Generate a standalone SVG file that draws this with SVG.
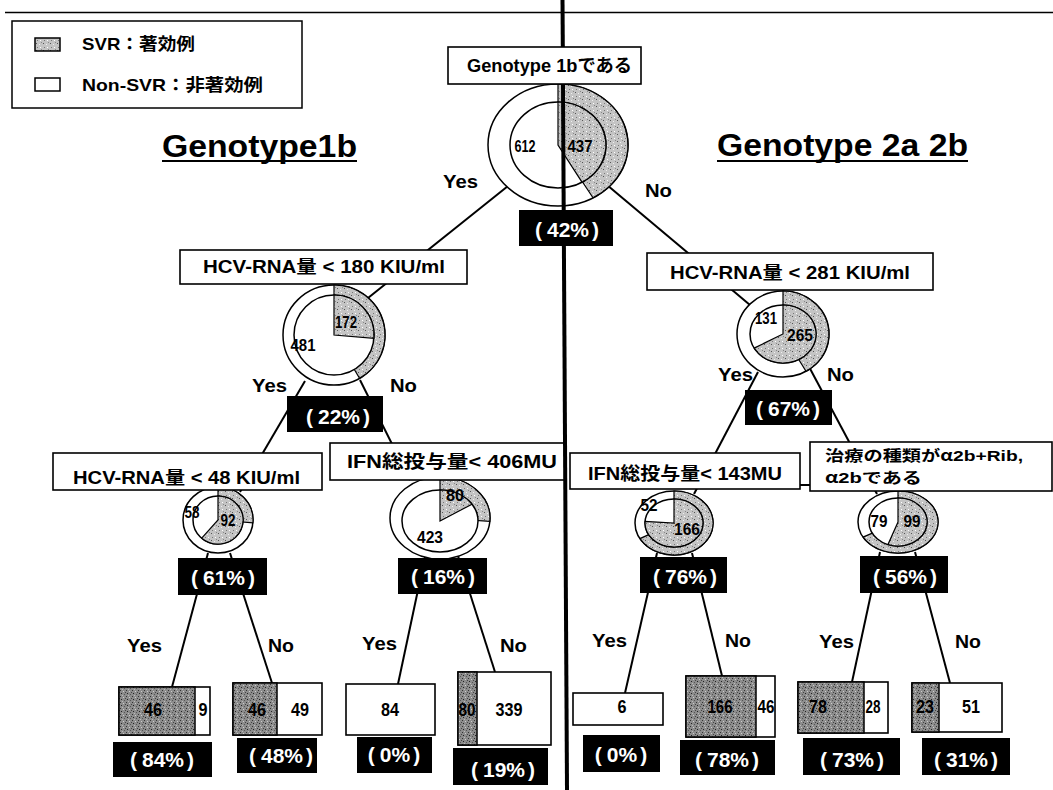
<svg xmlns="http://www.w3.org/2000/svg" width="1053" height="790" viewBox="0 0 1053 790">
<style>
.t{font-family:"Liberation Sans","Noto Sans CJK JP",sans-serif;font-weight:bold;fill:#000}
.j{font-family:"Noto Sans CJK JP",sans-serif}
.box{fill:#fff;stroke:#000;stroke-width:1.6}
.po{fill:#fff;stroke:#000;stroke-width:1.5}
.sv{fill:url(#g1);stroke:#000;stroke-width:1.2}
.sd{fill:url(#g2);stroke:#000;stroke-width:1.5}
.pct{fill:#000}
.pt{fill:#fff;font-size:21px;text-anchor:middle}
.lb{font-size:18px}
.yn{font-size:18px}
.n{font-size:17px;text-anchor:middle}
.ln{font-size:18px;text-anchor:middle}
.conn line{stroke:#000;stroke-width:2;fill:none}
.div line{stroke:#000;stroke-width:4}
</style>
<defs>
<pattern id="g1" width="7" height="7" patternUnits="userSpaceOnUse">
<rect width="7" height="7" fill="#c4c4c4"/>
<rect x="1" y="1" width="1" height="1" fill="#555"/>
<rect x="4" y="2" width="1" height="1" fill="#eee"/>
<rect x="2" y="5" width="1" height="1" fill="#777"/>
<rect x="5" y="5" width="1" height="1" fill="#fff"/>
<rect x="6" y="0" width="1" height="1" fill="#888"/>
</pattern>
<pattern id="g2" width="6" height="6" patternUnits="userSpaceOnUse">
<rect width="6" height="6" fill="#8c8c8c"/>
<rect x="0" y="0" width="1" height="1" fill="#333"/>
<rect x="3" y="1" width="1" height="1" fill="#ccc"/>
<rect x="1" y="3" width="1" height="1" fill="#222"/>
<rect x="4" y="4" width="1" height="1" fill="#555"/>
<rect x="2" y="5" width="1" height="1" fill="#bbb"/>
<rect x="5" y="2" width="1" height="1" fill="#444"/>
</pattern>
</defs>
<rect width="1053" height="790" fill="#fff"/>
<line x1="5" y1="12.5" x2="1053" y2="12.5" stroke="#000" stroke-width="1.5"/>

<g id="legend">
<rect x="12" y="21" width="290" height="87" fill="#fff" stroke="#000" stroke-width="1.5"/>
<rect x="35" y="38" width="25" height="13" fill="url(#g1)" stroke="#000" stroke-width="1.5"/>
<rect x="35" y="78" width="25" height="13" fill="#fff" stroke="#000" stroke-width="1.5"/>
<text class="t" x="82" y="50" font-size="17" textLength="113" lengthAdjust="spacingAndGlyphs">SVR：著効例</text>
<text class="t" x="82" y="91" font-size="17" textLength="181" lengthAdjust="spacingAndGlyphs">Non-SVR：非著効例</text>
</g>

<g id="headings">
<text class="t" x="162" y="157" font-size="31" textLength="195" lengthAdjust="spacingAndGlyphs">Genotype1b</text>
<line x1="162" y1="161" x2="357" y2="161" stroke="#000" stroke-width="2"/>
<text class="t" x="717" y="156" font-size="31" textLength="251" lengthAdjust="spacingAndGlyphs">Genotype 2a 2b</text>
<line x1="717" y1="161" x2="968" y2="161" stroke="#000" stroke-width="2"/>
</g>

<g id="connectors" class="conn">
<line x1="508" y1="186" x2="368" y2="298"/>
<line x1="607" y1="185" x2="750" y2="305"/>
<line x1="305" y1="381" x2="240" y2="492"/>
<line x1="360" y1="380" x2="410" y2="480"/>
<line x1="758" y1="372" x2="694" y2="494"/>
<line x1="807" y1="363" x2="877" y2="494"/>
<line x1="208" y1="553" x2="172" y2="687"/>
<line x1="230" y1="553" x2="272" y2="683"/>
<line x1="425" y1="557" x2="398" y2="684"/>
<line x1="458" y1="556" x2="495" y2="672"/>
<line x1="657" y1="553" x2="625" y2="693"/>
<line x1="692" y1="553" x2="722" y2="676"/>
<line x1="880" y1="552" x2="852" y2="682"/>
<line x1="915" y1="552" x2="950" y2="683"/>
<line x1="800" y1="485" x2="810" y2="485"/>
</g>

<g id="branch-labels">
<text class="t yn" x="443" y="188" textLength="35" lengthAdjust="spacingAndGlyphs">Yes</text>
<text class="t yn" x="645" y="197" textLength="27" lengthAdjust="spacingAndGlyphs">No</text>
<text class="t yn" x="252" y="392" textLength="35" lengthAdjust="spacingAndGlyphs">Yes</text>
<text class="t yn" x="390" y="392" textLength="27" lengthAdjust="spacingAndGlyphs">No</text>
<text class="t yn" x="718" y="381" textLength="35" lengthAdjust="spacingAndGlyphs">Yes</text>
<text class="t yn" x="827" y="381" textLength="27" lengthAdjust="spacingAndGlyphs">No</text>
<text class="t yn" x="127" y="652" textLength="35" lengthAdjust="spacingAndGlyphs">Yes</text>
<text class="t yn" x="268" y="652" textLength="26" lengthAdjust="spacingAndGlyphs">No</text>
<text class="t yn" x="362" y="650" textLength="35" lengthAdjust="spacingAndGlyphs">Yes</text>
<text class="t yn" x="500" y="652" textLength="27" lengthAdjust="spacingAndGlyphs">No</text>
<text class="t yn" x="592" y="647" textLength="35" lengthAdjust="spacingAndGlyphs">Yes</text>
<text class="t yn" x="725" y="647" textLength="26" lengthAdjust="spacingAndGlyphs">No</text>
<text class="t yn" x="819" y="648" textLength="35" lengthAdjust="spacingAndGlyphs">Yes</text>
<text class="t yn" x="955" y="648" textLength="26" lengthAdjust="spacingAndGlyphs">No</text>
</g>

<g id="node-root">
<ellipse cx="558" cy="145" rx="70" ry="61" class="po"/>
<path d="M558,145 L558,84 A70,61 0 0 1 593,197.8 Z" class="sv"/>
<ellipse cx="558" cy="145" rx="48" ry="43" class="po"/>
<path d="M558,145 L558,102 A48,43 0 0 1 582,182.2 Z" class="sv"/>
<text class="t n" x="525" y="152" textLength="21" lengthAdjust="spacingAndGlyphs">612</text>
<text class="t n" x="580" y="152" textLength="25" lengthAdjust="spacingAndGlyphs">437</text>
<rect x="448" y="47" width="193" height="37" class="box"/>
<text class="t lb" x="467" y="72" textLength="165" lengthAdjust="spacingAndGlyphs">Genotype 1bである</text>
<rect x="519" y="210" width="94" height="36" class="pct"/>
<text class="t pt" x="567" y="237">(<tspan dx="5">42%</tspan><tspan dx="3">)</tspan></text>
</g>

<g id="node-hcv180">
<ellipse cx="334" cy="335" rx="51" ry="50" class="po"/>
<path d="M334,335 L334,285 A51,50 0 0 1 359.5,378.3 Z" class="sv"/>
<ellipse cx="334" cy="335" rx="40" ry="40" class="po"/>
<path d="M334,335 L334,295 A40,40 0 0 1 373.9,338.3 Z" class="sv"/>
<text class="t n" x="346" y="328" textLength="22" lengthAdjust="spacingAndGlyphs">172</text>
<text class="t n" x="303" y="351" textLength="25" lengthAdjust="spacingAndGlyphs">481</text>
<rect x="180" y="250" width="287" height="34" class="box"/>
<text class="t lb" x="203" y="273" textLength="242" lengthAdjust="spacingAndGlyphs">HCV-RNA量 &lt; 180 KIU/ml</text>
<rect x="287" y="396" width="96" height="36" class="pct"/>
<text class="t pt" x="338" y="424">(<tspan dx="5">22%</tspan><tspan dx="3">)</tspan></text>
</g>

<g id="node-hcv281">
<ellipse cx="783" cy="334" rx="46" ry="43" class="po"/>
<path d="M783,334 L783,291 A46,43 0 0 1 806,371.2 Z" class="sv"/>
<ellipse cx="783" cy="334" rx="33" ry="29" class="po"/>
<path d="M783,334 L783,305 A33,29 0 1 1 754.2,348.1 Z" class="sv"/>
<text class="t n" x="766" y="324" textLength="22" lengthAdjust="spacingAndGlyphs">131</text>
<text class="t n" x="800" y="341" textLength="26" lengthAdjust="spacingAndGlyphs">265</text>
<rect x="647" y="253" width="286" height="37" class="box"/>
<text class="t lb" x="670" y="279" textLength="240" lengthAdjust="spacingAndGlyphs">HCV-RNA量 &lt; 281 KIU/ml</text>
<rect x="745" y="390" width="87" height="35" class="pct"/>
<text class="t pt" x="788" y="416">(<tspan dx="5">67%</tspan><tspan dx="3">)</tspan></text>
</g>

<g id="node-hcv48">
<ellipse cx="218" cy="520" rx="35" ry="33" class="po"/>
<path d="M218,520 L218,487 A35,33 0 0 1 252.9,522.8 Z" class="sv"/>
<ellipse cx="218" cy="520" rx="25" ry="24" class="po"/>
<path d="M218,520 L218,496 A25,24 0 1 1 201.7,538.2 Z" class="sv"/>
<text class="t n" x="192" y="518" textLength="15" lengthAdjust="spacingAndGlyphs">58</text>
<text class="t n" x="228" y="526" textLength="15" lengthAdjust="spacingAndGlyphs">92</text>
<rect x="53" y="453" width="269" height="37" class="box"/>
<text class="t lb" x="73" y="484" textLength="227" lengthAdjust="spacingAndGlyphs">HCV-RNA量 &lt; 48 KIU/ml</text>
<rect x="178" y="558" width="89" height="37" class="pct"/>
<text class="t pt" x="223" y="585">(<tspan dx="5">61%</tspan><tspan dx="3">)</tspan></text>
</g>

<g id="node-ifn406">
<ellipse cx="440" cy="518" rx="50" ry="41" class="po"/>
<path d="M440,518 L440,477 A50,41 0 0 1 489.8,521.4 Z" class="sv"/>
<ellipse cx="440" cy="521" rx="38" ry="31" class="po"/>
<path d="M440,521 L440,490 A38,31 0 0 1 471.9,504.2 Z" class="sv"/>
<text class="t n" x="455" y="501" textLength="18" lengthAdjust="spacingAndGlyphs">80</text>
<text class="t n" x="430" y="543" textLength="26" lengthAdjust="spacingAndGlyphs">423</text>
<rect x="330" y="443" width="235" height="37" class="box"/>
<text class="t lb" x="347" y="468" textLength="210" lengthAdjust="spacingAndGlyphs">IFN総投与量&lt; 406MU</text>
<rect x="398" y="558" width="89" height="36" class="pct"/>
<text class="t pt" x="443" y="584">(<tspan dx="5">16%</tspan><tspan dx="3">)</tspan></text>
</g>

<g id="node-ifn143">
<ellipse cx="674" cy="523" rx="39" ry="32" class="po"/>
<path d="M674,523 L674,491 A39,32 0 1 1 640,538.6 Z" class="sv"/>
<ellipse cx="674" cy="523" rx="29" ry="24" class="po"/>
<path d="M674,523 L674,499 A29,24 0 1 1 645.1,521.3 Z" class="sv"/>
<text class="t n" x="649" y="511" textLength="17" lengthAdjust="spacingAndGlyphs">52</text>
<text class="t n" x="687" y="535" textLength="26" lengthAdjust="spacingAndGlyphs">166</text>
<rect x="570" y="453" width="230" height="36" class="box"/>
<text class="t lb" x="588" y="480" textLength="194" lengthAdjust="spacingAndGlyphs">IFN総投与量&lt; 143MU</text>
<rect x="640" y="557" width="87" height="36" class="pct"/>
<text class="t pt" x="685" y="584">(<tspan dx="5">76%</tspan><tspan dx="3">)</tspan></text>
</g>

<g id="node-alpha2b">
<ellipse cx="898" cy="522" rx="40" ry="31" class="po"/>
<path d="M898,522 L898,491 A40,31 0 1 1 863.1,537.1 Z" class="sv"/>
<ellipse cx="898" cy="522" rx="29" ry="24" class="po"/>
<path d="M898,522 L898,498 A29,24 0 1 1 888,544.5 Z" class="sv"/>
<text class="t n" x="879" y="527" textLength="17" lengthAdjust="spacingAndGlyphs">79</text>
<text class="t n" x="912" y="527" textLength="17" lengthAdjust="spacingAndGlyphs">99</text>
<rect x="810" y="442" width="242" height="49" class="box"/>
<text class="t" x="825" y="461" font-size="15" textLength="198" lengthAdjust="spacingAndGlyphs">治療の種類が<tspan class="j">α</tspan>2b+Rib,</text>
<text class="t" x="825" y="483" font-size="15" textLength="97" lengthAdjust="spacingAndGlyphs"><tspan class="j">α</tspan>2bである</text>
<rect x="860" y="556" width="88" height="37" class="pct"/>
<text class="t pt" x="905" y="584">(<tspan dx="5">56%</tspan><tspan dx="3">)</tspan></text>
</g>

<g id="leaf-1">
<rect x="119" y="687" width="91" height="48" class="box"/>
<rect x="119" y="687" width="76" height="48" class="sd"/>
<text class="t ln" x="153" y="716" textLength="18" lengthAdjust="spacingAndGlyphs">46</text>
<text class="t ln" x="203" y="716" textLength="9" lengthAdjust="spacingAndGlyphs">9</text>
<rect x="113" y="742" width="99" height="35" class="pct"/>
<text class="t pt" x="162" y="767">(<tspan dx="5">84%</tspan><tspan dx="3">)</tspan></text>
</g>
<g id="leaf-2">
<rect x="233" y="683" width="89" height="52" class="box"/>
<rect x="233" y="683" width="44" height="52" class="sd"/>
<text class="t ln" x="257" y="716" textLength="18" lengthAdjust="spacingAndGlyphs">46</text>
<text class="t ln" x="300" y="716" textLength="18" lengthAdjust="spacingAndGlyphs">49</text>
<rect x="237" y="738" width="80" height="35" class="pct"/>
<text class="t pt" x="281" y="763">(<tspan dx="5">48%</tspan><tspan dx="3">)</tspan></text>
</g>
<g id="leaf-3">
<rect x="346" y="684" width="89" height="51" class="box"/>
<text class="t ln" x="390" y="716" textLength="18" lengthAdjust="spacingAndGlyphs">84</text>
<rect x="357" y="737" width="75" height="36" class="pct"/>
<text class="t pt" x="394" y="762">(<tspan dx="5">0%</tspan><tspan dx="3">)</tspan></text>
</g>
<g id="leaf-4">
<rect x="458" y="672" width="93" height="73" class="box"/>
<rect x="458" y="672" width="19" height="73" class="sd"/>
<text class="t ln" x="467" y="716" textLength="17" lengthAdjust="spacingAndGlyphs">80</text>
<text class="t ln" x="509" y="716" textLength="27" lengthAdjust="spacingAndGlyphs">339</text>
<rect x="453" y="748" width="95" height="37" class="pct"/>
<text class="t pt" x="503" y="777">(<tspan dx="5">19%</tspan><tspan dx="3">)</tspan></text>
</g>
<g id="leaf-5">
<rect x="573" y="693" width="90" height="32" class="box"/>
<text class="t ln" x="622" y="713" textLength="9" lengthAdjust="spacingAndGlyphs">6</text>
<rect x="583" y="735" width="77" height="37" class="pct"/>
<text class="t pt" x="621" y="762">(<tspan dx="5">0%</tspan><tspan dx="3">)</tspan></text>
</g>
<g id="leaf-6">
<rect x="686" y="676" width="89" height="61" class="box"/>
<rect x="686" y="676" width="70" height="61" class="sd"/>
<text class="t ln" x="720" y="713" textLength="25" lengthAdjust="spacingAndGlyphs">166</text>
<text class="t ln" x="766" y="713" textLength="17" lengthAdjust="spacingAndGlyphs">46</text>
<rect x="680" y="740" width="95" height="35" class="pct"/>
<text class="t pt" x="727" y="767">(<tspan dx="5">78%</tspan><tspan dx="3">)</tspan></text>
</g>
<g id="leaf-7">
<rect x="798" y="682" width="90" height="51" class="box"/>
<rect x="798" y="682" width="66" height="51" class="sd"/>
<text class="t ln" x="818" y="713" textLength="18" lengthAdjust="spacingAndGlyphs">78</text>
<text class="t ln" x="873" y="713" textLength="15" lengthAdjust="spacingAndGlyphs">28</text>
<rect x="803" y="738" width="97" height="37" class="pct"/>
<text class="t pt" x="852" y="767">(<tspan dx="5">73%</tspan><tspan dx="3">)</tspan></text>
</g>
<g id="leaf-8">
<rect x="912" y="683" width="90" height="49" class="box"/>
<rect x="912" y="683" width="27" height="49" class="sd"/>
<text class="t ln" x="925" y="713" textLength="18" lengthAdjust="spacingAndGlyphs">23</text>
<text class="t ln" x="971" y="713" textLength="18" lengthAdjust="spacingAndGlyphs">51</text>
<rect x="922" y="738" width="88" height="37" class="pct"/>
<text class="t pt" x="966" y="767">(<tspan dx="5">31%</tspan><tspan dx="3">)</tspan></text>
</g>

<g id="divider" class="div">
<line x1="562.5" y1="0" x2="562.8" y2="47"/>
<line x1="563" y1="84" x2="563.7" y2="210"/>
<line x1="563.9" y1="246" x2="567" y2="790"/>
</g>
</svg>
